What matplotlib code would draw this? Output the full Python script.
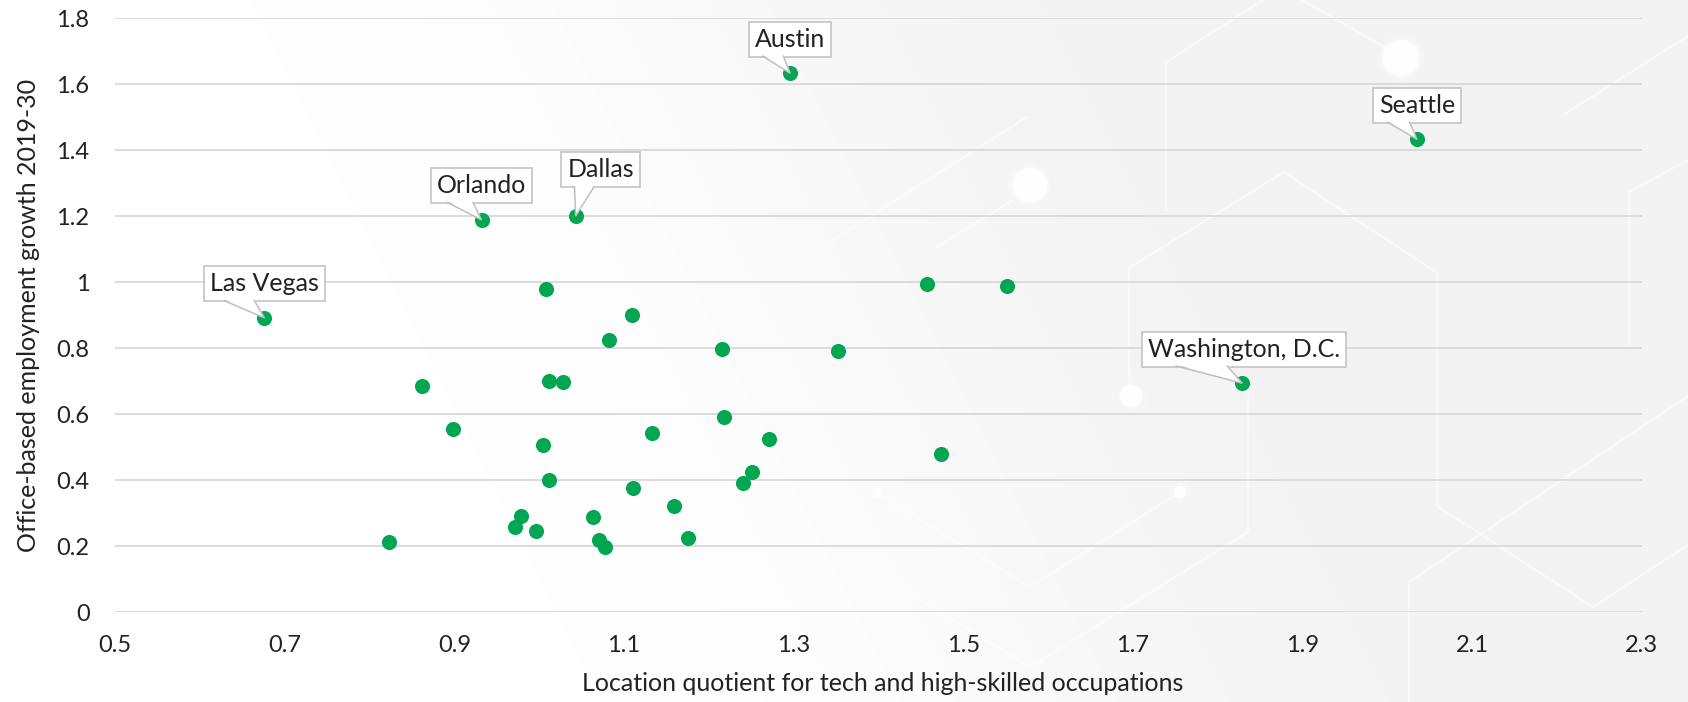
import numpy as np
import matplotlib
matplotlib.use("Agg")
import matplotlib.pyplot as plt
from matplotlib.patches import Polygon, Circle
from matplotlib.transforms import IdentityTransform

# Labelled metro areas
cities = ["Las Vegas", "Orlando", "Dallas", "Austin", "Seattle", "Washington, D.C."]
city_lq = [0.676, 0.932, 1.043, 1.296, 2.035, 1.829]
city_growth = [0.892, 1.189, 1.201, 1.633, 1.433, 0.694]

# Remaining metro areas
other_lq = [1.008, 1.109, 1.082, 1.216, 1.352, 1.457, 1.551,
            0.862, 1.012, 1.028, 0.898, 1.218, 1.133, 1.004, 1.271, 1.474,
            1.012, 1.251, 1.240, 1.110, 1.159, 0.978, 0.972, 0.996, 1.063,
            1.070, 1.078, 1.176, 0.823]
other_growth = [0.979, 0.901, 0.825, 0.797, 0.792, 0.995, 0.990,
                0.686, 0.701, 0.697, 0.555, 0.593, 0.542, 0.506, 0.525, 0.480,
                0.401, 0.424, 0.391, 0.377, 0.323, 0.293, 0.258, 0.246, 0.290,
                0.219, 0.199, 0.224, 0.212]

x_ticks = [0.5, 0.7, 0.9, 1.1, 1.3, 1.5, 1.7, 1.9, 2.1, 2.3]
x_tick_labels = ["0.5", "0.7", "0.9", "1.1", "1.3", "1.5", "1.7", "1.9", "2.1", "2.3"]
y_ticks = [0, 0.2, 0.4, 0.6, 0.8, 1.0, 1.2, 1.4, 1.6, 1.8]
y_tick_labels = ["0", "0.2", "0.4", "0.6", "0.8", "1", "1.2", "1.4", "1.6", "1.8"]

x_title = "Location quotient for tech and high-skilled occupations"
y_title = "Office-based employment growth 2019-30"

# Callout placement (pixel offset of the label box centre from its point)
label_offsets = {"Las Vegas": (0, 34), "Orlando": (0, 34), "Dallas": (25, 46),
                 "Austin": (0, 34), "Seattle": (0, 34), "Washington, D.C.": (2, 34)}

GREEN = "#00a651"
GRID = "#d9d9d9"
TEXT = "#222222"
BOX_EDGE = "#bfbfbf"

plt.rcParams["font.family"] = ["Lato", "DejaVu Sans"]

W, H = 1688, 702
fig = plt.figure(figsize=(W / 100, H / 100), dpi=100)

# Backdrop: white fading into a light grey with a faint hexagonal circuit motif
bg_ax = fig.add_axes([0, 0, 1, 1], zorder=-1)
yy, xx = np.mgrid[0:H, 0:W]
u = xx + 0.5 * (H - yy)
t = np.clip((u - 600) / 900, 0, 1)
t = t * t * (3 - 2 * t)
shade = 1 - 0.045 * t
bg_ax.imshow(np.dstack([shade] * 3), extent=[0, W, H, 0], aspect="auto",
             interpolation="bilinear")
motif = [
    [(1166, 210), (1166, 62), (1263, 0)],
    [(1302, 0), (1388, 49)],
    [(1129, 396), (1129, 268), (1284, 172), (1437, 273), (1437, 506),
     (1593, 607), (1688, 545)],
    [(1409, 702), (1409, 582), (1688, 396)],
    [(1565, 114), (1688, 36)],
    [(1629, 345), (1629, 192), (1688, 160)],
    [(877, 493), (1030, 587), (1180, 492)],
    [(860, 563), (1030, 667), (1248, 532), (1248, 383)],
    [(833, 240), (1027, 117)],
    [(937, 247), (1013, 200)],
]
for seg in motif:
    xs, ys = zip(*seg)
    bg_ax.plot(xs, ys, color="white", lw=1.5, alpha=0.55, solid_capstyle="round")
for cx, cy, r in [(1401, 58, 18), (1030, 185, 17), (1131, 396, 11),
                  (1180, 492, 6), (877, 493, 5)]:
    for k, a in [(1.3, 0.2), (1.12, 0.4), (1.0, 0.85)]:
        bg_ax.add_patch(Circle((cx, cy), r * k, color="white", alpha=a, lw=0))
bg_ax.set_xlim(0, W)
bg_ax.set_ylim(H, 0)
bg_ax.axis("off")

# Main scatter
ax = fig.add_axes([115.2 / W, (H - 612.3) / H, (1641.7 - 115.2) / W, 594.0 / H])
ax.set_facecolor("none")
ax.set_xlim(0.5, 2.3)
ax.set_ylim(0, 1.8)
ax.set_xticks(x_ticks, x_tick_labels)
ax.set_yticks(y_ticks, y_tick_labels)
ax.tick_params(axis="both", length=0, labelsize=17, colors=TEXT)
ax.tick_params(axis="x", pad=16.5)
ax.tick_params(axis="y", pad=18.5)
for s in ax.spines.values():
    s.set_visible(False)
ax.grid(axis="y", color=GRID, lw=1.3)
ax.set_axisbelow(True)

ax.scatter(other_lq, other_growth, s=118, color=GREEN, linewidths=0, zorder=4)
ax.scatter(city_lq, city_growth, s=118, color=GREEN, linewidths=0, zorder=4)

ax.set_xlabel(x_title, fontsize=18, color=TEXT)
ax.set_ylabel(y_title, fontsize=18, color=TEXT)
ax.xaxis.set_label_coords(0.503, -0.10)
ax.yaxis.set_label_coords(-0.049, 0.5)

notes = []
for name, x, y in zip(cities, city_lq, city_growth):
    dx, dy = label_offsets[name]
    a = ax.annotate(name, xy=(x, y), xytext=(dx, dy), textcoords="offset pixels",
                    ha="center", va="center", fontsize=18, color=TEXT, zorder=5,
                    bbox=dict(boxstyle="square,pad=0.24", fc="white", ec=BOX_EDGE, lw=1.1))
    notes.append(a)

# Callout pointers from each label box down to its point
fig.canvas.draw()
renderer = fig.canvas.get_renderer()
for a, x, y in zip(notes, city_lq, city_growth):
    bb = a.get_bbox_patch().get_window_extent(renderer)
    tip = ax.transData.transform((x, y))
    bl = bb.x0 + bb.width / 6
    br = bb.x0 + bb.width * 5 / 12
    yb = bb.y0 + 0.8
    ax.add_patch(Polygon([(bl, yb + 1.6), (br, yb + 1.6), tuple(tip)], closed=True,
                         transform=IdentityTransform(), fc="white", ec="none",
                         zorder=6, clip_on=False))
    ax.plot([bl, tip[0], br], [yb, tip[1], yb], color=BOX_EDGE, lw=1.1,
            transform=IdentityTransform(), zorder=6, clip_on=False,
            solid_joinstyle="miter")

fig.savefig("out.png", dpi=100)
